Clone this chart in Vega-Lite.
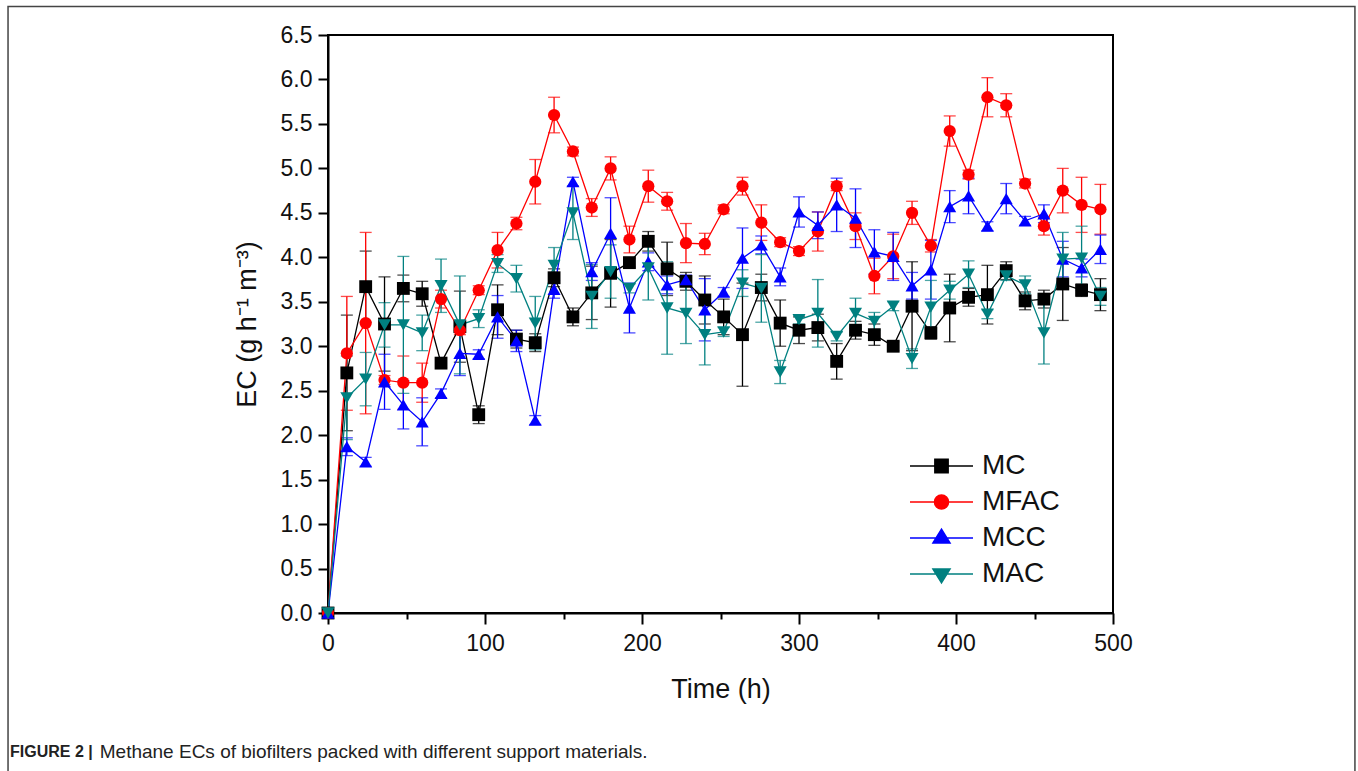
{
"$schema": "https://vega.github.io/schema/vega-lite/v6.json",
"width": 785, "height": 578,
"autosize": "none",
"padding": {"left": 328, "top": 35, "right": 245, "bottom": 158},
"background": "white",
"config": {"view": {"stroke": "#000", "strokeWidth": 2}, "font": "Liberation Sans"},
"title": {"text": "FIGURE 2 |", "subtitle": "\u200b\u00a0\u00a0\u00a0\u00a0\u00a0\u00a0\u00a0\u00a0\u00a0\u00a0\u00a0\u00a0\u00a0\u00a0\u00a0\u00a0\u00a0Methane ECs of biofilters packed with different support materials.", "orient": "bottom", "anchor": "start", "frame": "group", "dx": -318, "offset": -30, "font": "Liberation Sans", "fontSize": 16, "fontWeight": "bold", "color": "#222", "subtitleFont": "Liberation Sans", "subtitleFontSize": 19, "subtitleColor": "#222", "subtitlePadding": -17},
"data": {"values": [
{"t":0,"s":"MC","v":0,"e":0},{"t":12,"s":"MC","v":2.70,"e":0.65},{"t":24,"s":"MC","v":3.67,"e":0.4},{"t":36,"s":"MC","v":3.25,"e":0.53},{"t":48,"s":"MC","v":3.65,"e":0.15},{"t":60,"s":"MC","v":3.59,"e":0.14},{"t":72,"s":"MC","v":2.81,"e":0.05},{"t":84,"s":"MC","v":3.22,"e":0.4},{"t":96,"s":"MC","v":2.23,"e":0.1},{"t":108,"s":"MC","v":3.41,"e":0.28},{"t":120,"s":"MC","v":3.08,"e":0.1},{"t":132,"s":"MC","v":3.04,"e":0.1},{"t":144,"s":"MC","v":3.77,"e":0.1},{"t":156,"s":"MC","v":3.33,"e":0.1},{"t":168,"s":"MC","v":3.60,"e":0.3},{"t":180,"s":"MC","v":3.82,"e":0.38},{"t":192,"s":"MC","v":3.94,"e":0.05},{"t":204,"s":"MC","v":4.18,"e":0.11},{"t":216,"s":"MC","v":3.87,"e":0.3},{"t":228,"s":"MC","v":3.73,"e":0.1},{"t":240,"s":"MC","v":3.52,"e":0.27},{"t":252,"s":"MC","v":3.33,"e":0.2},{"t":264,"s":"MC","v":3.13,"e":0.58},{"t":276,"s":"MC","v":3.66,"e":0.15},{"t":288,"s":"MC","v":3.26,"e":0.26},{"t":300,"s":"MC","v":3.18,"e":0.15},{"t":312,"s":"MC","v":3.21,"e":0.15},{"t":324,"s":"MC","v":2.83,"e":0.2},{"t":336,"s":"MC","v":3.18,"e":0.1},{"t":348,"s":"MC","v":3.13,"e":0.12},{"t":360,"s":"MC","v":3.00,"e":0.05},{"t":372,"s":"MC","v":3.45,"e":0.5},{"t":384,"s":"MC","v":3.15,"e":0.07},{"t":396,"s":"MC","v":3.43,"e":0.38},{"t":408,"s":"MC","v":3.55,"e":0.1},{"t":420,"s":"MC","v":3.58,"e":0.33},{"t":432,"s":"MC","v":3.85,"e":0.1},{"t":444,"s":"MC","v":3.51,"e":0.1},{"t":456,"s":"MC","v":3.53,"e":0.1},{"t":468,"s":"MC","v":3.70,"e":0.41},{"t":480,"s":"MC","v":3.63,"e":0.07},{"t":492,"s":"MC","v":3.58,"e":0.18},
{"t":0,"s":"MFAC","v":0,"e":0},{"t":12,"s":"MFAC","v":2.92,"e":0.64},{"t":24,"s":"MFAC","v":3.26,"e":1.02},{"t":36,"s":"MFAC","v":2.62,"e":0.05},{"t":48,"s":"MFAC","v":2.59,"e":0.3},{"t":60,"s":"MFAC","v":2.59,"e":0.22},{"t":72,"s":"MFAC","v":3.53,"e":0.1},{"t":84,"s":"MFAC","v":3.18,"e":0.05},{"t":96,"s":"MFAC","v":3.63,"e":0.05},{"t":108,"s":"MFAC","v":4.08,"e":0.2},{"t":120,"s":"MFAC","v":4.38,"e":0.07},{"t":132,"s":"MFAC","v":4.85,"e":0.25},{"t":144,"s":"MFAC","v":5.60,"e":0.2},{"t":156,"s":"MFAC","v":5.19,"e":0.05},{"t":168,"s":"MFAC","v":4.56,"e":0.1},{"t":180,"s":"MFAC","v":5.00,"e":0.13},{"t":192,"s":"MFAC","v":4.20,"e":0.15},{"t":204,"s":"MFAC","v":4.80,"e":0.18},{"t":216,"s":"MFAC","v":4.63,"e":0.1},{"t":228,"s":"MFAC","v":4.16,"e":0.22},{"t":240,"s":"MFAC","v":4.15,"e":0.12},{"t":252,"s":"MFAC","v":4.54,"e":0.05},{"t":264,"s":"MFAC","v":4.80,"e":0.1},{"t":276,"s":"MFAC","v":4.39,"e":0.2},{"t":288,"s":"MFAC","v":4.17,"e":0.05},{"t":300,"s":"MFAC","v":4.07,"e":0.05},{"t":312,"s":"MFAC","v":4.29,"e":0.22},{"t":324,"s":"MFAC","v":4.80,"e":0.05},{"t":336,"s":"MFAC","v":4.35,"e":0.15},{"t":348,"s":"MFAC","v":3.79,"e":0.2},{"t":360,"s":"MFAC","v":4.01,"e":0.25},{"t":372,"s":"MFAC","v":4.50,"e":0.13},{"t":384,"s":"MFAC","v":4.13,"e":0.07},{"t":396,"s":"MFAC","v":5.42,"e":0.17},{"t":408,"s":"MFAC","v":4.93,"e":0.05},{"t":420,"s":"MFAC","v":5.80,"e":0.22},{"t":432,"s":"MFAC","v":5.71,"e":0.13},{"t":444,"s":"MFAC","v":4.83,"e":0.05},{"t":456,"s":"MFAC","v":4.35,"e":0.1},{"t":468,"s":"MFAC","v":4.75,"e":0.25},{"t":480,"s":"MFAC","v":4.59,"e":0.31},{"t":492,"s":"MFAC","v":4.54,"e":0.28},
{"t":0,"s":"MCC","v":0,"e":0},{"t":12,"s":"MCC","v":1.87,"e":0.1},{"t":24,"s":"MCC","v":1.70,"e":0.05},{"t":36,"s":"MCC","v":2.60,"e":0.31},{"t":48,"s":"MCC","v":2.34,"e":0.27},{"t":60,"s":"MCC","v":2.15,"e":0.27},{"t":72,"s":"MCC","v":2.47,"e":0.05},{"t":84,"s":"MCC","v":2.92,"e":0.25},{"t":96,"s":"MCC","v":2.91,"e":0.05},{"t":108,"s":"MCC","v":3.33,"e":0.24},{"t":120,"s":"MCC","v":3.06,"e":0.12},{"t":132,"s":"MCC","v":2.17,"e":0.05},{"t":144,"s":"MCC","v":3.64,"e":0.1},{"t":156,"s":"MCC","v":4.85,"e":0.05},{"t":168,"s":"MCC","v":3.84,"e":0.1},{"t":180,"s":"MCC","v":4.27,"e":0.4},{"t":192,"s":"MCC","v":3.43,"e":0.28},{"t":204,"s":"MCC","v":3.95,"e":0.1},{"t":216,"s":"MCC","v":3.69,"e":0.1},{"t":228,"s":"MCC","v":3.75,"e":0.05},{"t":240,"s":"MCC","v":3.41,"e":0.35},{"t":252,"s":"MCC","v":3.61,"e":0.05},{"t":264,"s":"MCC","v":3.99,"e":0.34},{"t":276,"s":"MCC","v":4.14,"e":0.1},{"t":288,"s":"MCC","v":3.78,"e":0.1},{"t":300,"s":"MCC","v":4.51,"e":0.17},{"t":312,"s":"MCC","v":4.36,"e":0.15},{"t":324,"s":"MCC","v":4.59,"e":0.3},{"t":336,"s":"MCC","v":4.44,"e":0.33},{"t":348,"s":"MCC","v":4.06,"e":0.25},{"t":360,"s":"MCC","v":4.01,"e":0.27},{"t":372,"s":"MCC","v":3.68,"e":0.15},{"t":384,"s":"MCC","v":3.86,"e":0.33},{"t":396,"s":"MCC","v":4.57,"e":0.18},{"t":408,"s":"MCC","v":4.69,"e":0.2},{"t":420,"s":"MCC","v":4.35,"e":0.05},{"t":432,"s":"MCC","v":4.66,"e":0.17},{"t":444,"s":"MCC","v":4.41,"e":0.05},{"t":456,"s":"MCC","v":4.49,"e":0.1},{"t":468,"s":"MCC","v":3.98,"e":0.2},{"t":480,"s":"MCC","v":3.88,"e":0.1},{"t":492,"s":"MCC","v":4.09,"e":0.16},
{"t":0,"s":"MAC","v":0,"e":0},{"t":12,"s":"MAC","v":2.42,"e":0.47},{"t":24,"s":"MAC","v":2.63,"e":0.3},{"t":36,"s":"MAC","v":3.24,"e":0.25},{"t":48,"s":"MAC","v":3.24,"e":0.77},{"t":60,"s":"MAC","v":3.15,"e":0.2},{"t":72,"s":"MAC","v":3.68,"e":0.3},{"t":84,"s":"MAC","v":3.24,"e":0.55},{"t":96,"s":"MAC","v":3.31,"e":0.1},{"t":108,"s":"MAC","v":3.93,"e":0.1},{"t":120,"s":"MAC","v":3.76,"e":0.15},{"t":132,"s":"MAC","v":3.26,"e":0.3},{"t":144,"s":"MAC","v":3.91,"e":0.2},{"t":156,"s":"MAC","v":4.50,"e":0.3},{"t":168,"s":"MAC","v":3.56,"e":0.36},{"t":180,"s":"MAC","v":3.84,"e":0.3},{"t":192,"s":"MAC","v":3.65,"e":0.05},{"t":204,"s":"MAC","v":3.88,"e":0.36},{"t":216,"s":"MAC","v":3.43,"e":0.52},{"t":228,"s":"MAC","v":3.37,"e":0.34},{"t":240,"s":"MAC","v":3.13,"e":0.34},{"t":252,"s":"MAC","v":3.16,"e":0.05},{"t":264,"s":"MAC","v":3.71,"e":0.15},{"t":276,"s":"MAC","v":3.65,"e":0.38},{"t":288,"s":"MAC","v":2.71,"e":0.13},{"t":300,"s":"MAC","v":3.30,"e":0.05},{"t":312,"s":"MAC","v":3.37,"e":0.38},{"t":324,"s":"MAC","v":3.11,"e":0.05},{"t":336,"s":"MAC","v":3.37,"e":0.17},{"t":348,"s":"MAC","v":3.28,"e":0.1},{"t":360,"s":"MAC","v":3.45,"e":0.05},{"t":372,"s":"MAC","v":2.86,"e":0.11},{"t":384,"s":"MAC","v":3.44,"e":0.3},{"t":396,"s":"MAC","v":3.63,"e":0.1},{"t":408,"s":"MAC","v":3.81,"e":0.15},{"t":420,"s":"MAC","v":3.36,"e":0.05},{"t":432,"s":"MAC","v":3.79,"e":0.05},{"t":444,"s":"MAC","v":3.69,"e":0.1},{"t":456,"s":"MAC","v":3.15,"e":0.35},{"t":468,"s":"MAC","v":3.98,"e":0.3},{"t":480,"s":"MAC","v":3.99,"e":0.36},{"t":492,"s":"MAC","v":3.56,"e":0.1}
]},
"layer": [
  {"data": {"values": [{"k": 1}]},
   "mark": {"type": "rect", "fillOpacity": 0, "stroke": "#444", "strokeWidth": 1.5, "clip": false},
   "encoding": {
     "x": {"datum": -203.8, "type": "quantitative", "scale": {"domain": [0, 500], "nice": false}},
     "x2": {"datum": 654.1},
     "y": {"datum": 6.82, "type": "quantitative", "scale": {"domain": [0, 6.5], "nice": false}},
     "y2": {"datum": -1.8}}},
  {"encoding": {
    "x": {"field": "t", "type": "quantitative", "scale": {"domain": [0, 500], "nice": false},
      "axis": {"title": "Time (h)", "values": [0,50,100,150,200,250,300,350,400,450,500], "format": "d", "labelFlush": false,
        "labelExpr": "datum.value % 100 === 0 ? datum.label : ''",
        "tickSize": {"condition": {"test": "datum.value % 100 === 0", "value": 11}, "value": 6},
        "tickWidth": 2, "tickColor": "#000", "domainColor": "#000", "domainWidth": 2, "grid": false,
        "labelFont": "Liberation Sans", "labelFontSize": 23, "labelColor": "#111", "labelPadding": 8,
        "titleFont": "Liberation Sans", "titleFontSize": 27, "titleFontWeight": "normal", "titleColor": "#111", "titlePadding": 21}},
    "y": {"field": "v", "type": "quantitative", "scale": {"domain": [0, 6.5], "nice": false},
      "axis": {"title": "EC (g h\u207b\u00b9 m\u207b\u00b3)", "values": [0,0.25,0.5,0.75,1,1.25,1.5,1.75,2,2.25,2.5,2.75,3,3.25,3.5,3.75,4,4.25,4.5,4.75,5,5.25,5.5,5.75,6,6.25,6.5], "labelFlush": false,
        "labelExpr": "datum.value % 0.5 === 0 ? format(datum.value, '.1f') : ''",
        "tickSize": {"condition": {"test": "datum.value % 0.5 === 0", "value": 10}, "value": 5},
        "tickWidth": 2, "tickColor": "#000", "domainColor": "#000", "domainWidth": 2, "grid": false,
        "labelFont": "Liberation Sans", "labelFontSize": 23, "labelColor": "#111", "labelPadding": 6,
        "titleFont": "Liberation Sans", "titleFontSize": 27, "titleFontWeight": "normal", "titleColor": "#111", "titlePadding": 19}}
   },
   "layer": [
    {"mark": {"type": "errorbar", "ticks": true, "size": 12, "thickness": 1.3},
     "encoding": {"yError": {"field": "e"},
       "color": {"field": "s", "type": "nominal", "scale": {"domain": ["MC","MFAC","MCC","MAC"], "range": ["#000000","#ff0000","#0000ff","#008080"]}}}},
    {"mark": {"type": "line", "strokeWidth": 1.3},
     "encoding": {"color": {"field": "s", "type": "nominal", "scale": {"domain": ["MC","MFAC","MCC","MAC"], "range": ["#000000","#ff0000","#0000ff","#008080"]}}}},
    {"transform": [{"filter": "datum.s === 'MC'"}],
     "mark": {"type": "point", "shape": "square", "filled": true, "size": 165, "opacity": 1},
     "encoding": {
       "color": {"field": "s", "type": "nominal", "scale": {"domain": ["MC","MFAC","MCC","MAC"], "range": ["#000000","#ff0000","#0000ff","#008080"]},
         "legend": {"title": null, "orient": "none", "legendX": 592, "legendY": 409.5, "padding": 0, "symbolSize": 1722, "symbolStrokeWidth": 1.5, "symbolOpacity": 1,
           "labelFont": "Liberation Sans", "labelFontSize": 28, "labelColor": "#111", "labelOffset": 19, "rowPadding": 0,
           "encode": {"symbols": {"update": {
             "shape": {"signal": "datum.value === 'MC' ? 'M-1.52,0H1.52M-0.32,-0.32H0.32V0.32H-0.32Z' : datum.value === 'MFAC' ? 'M-1.52,0H1.52M0.34,0A0.34,0.34,0,1,1,-0.34,0A0.34,0.34,0,1,1,0.34,0Z' : datum.value === 'MCC' ? 'M-1.52,0H1.52M-0.41,0.24L0,-0.43L0.41,0.24Z' : 'M-1.52,0H1.52M-0.41,-0.24L0,0.43L0.41,-0.24Z'"},
             "stroke": {"signal": "scale('color', datum.value)"},
             "fill": {"signal": "scale('color', datum.value)"},
             "strokeWidth": {"value": 1.5},
             "opacity": {"value": 1}}}}}}}},
    {"transform": [{"filter": "datum.s === 'MFAC'"}],
     "mark": {"type": "point", "shape": "circle", "filled": true, "size": 150, "opacity": 1},
     "encoding": {"color": {"field": "s", "type": "nominal", "scale": {"domain": ["MC","MFAC","MCC","MAC"], "range": ["#000000","#ff0000","#0000ff","#008080"]}}}},
    {"transform": [{"filter": "datum.s === 'MCC'"}],
     "mark": {"type": "point", "shape": "triangle-up", "filled": true, "size": 170, "opacity": 1},
     "encoding": {"color": {"field": "s", "type": "nominal", "scale": {"domain": ["MC","MFAC","MCC","MAC"], "range": ["#000000","#ff0000","#0000ff","#008080"]}}}},
    {"transform": [{"filter": "datum.s === 'MAC'"}],
     "mark": {"type": "point", "shape": "triangle-down", "filled": true, "size": 170, "opacity": 1},
     "encoding": {"color": {"field": "s", "type": "nominal", "scale": {"domain": ["MC","MFAC","MCC","MAC"], "range": ["#000000","#ff0000","#0000ff","#008080"]}}}}
   ]}
]
}
